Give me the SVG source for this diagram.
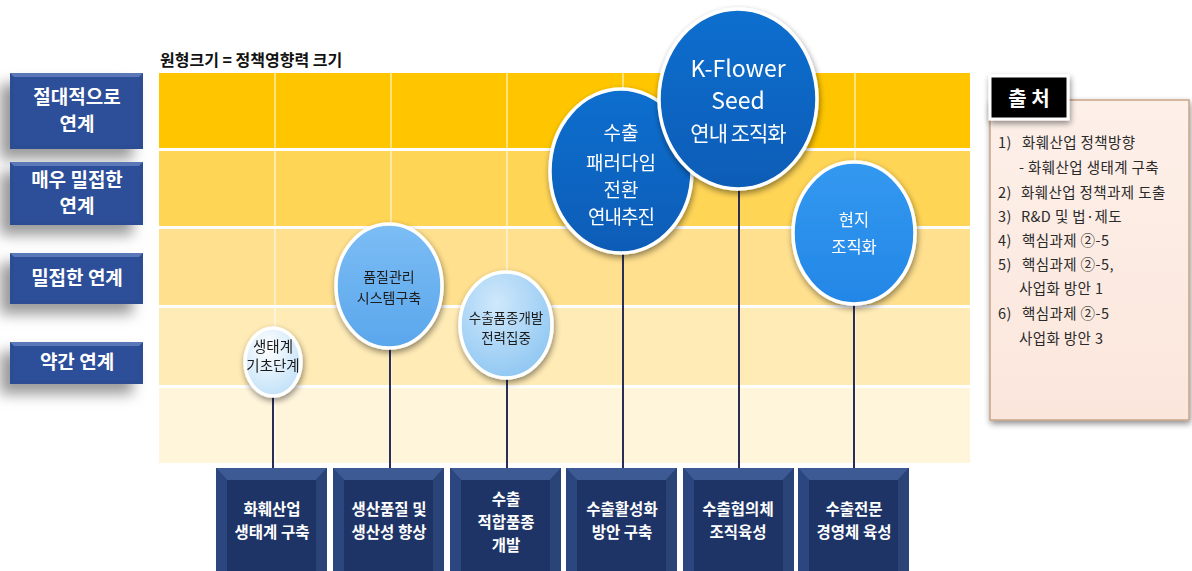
<svg xmlns="http://www.w3.org/2000/svg" width="1192" height="571" viewBox="0 0 1192 571">
<defs>
<style>
.kr{font-family:"Noto Sans CJK KR","Noto Sans",sans-serif;}
.lbl{font-family:"Noto Sans CJK KR",sans-serif;font-weight:bold;font-size:19px;fill:#fff;text-anchor:middle;}
.btm{font-family:"Noto Sans CJK KR",sans-serif;font-weight:bold;font-size:15.5px;fill:#fff;text-anchor:middle;}
.ctw{font-family:"Noto Sans CJK KR","Noto Sans",sans-serif;fill:#fff;text-anchor:middle;}
.ctd{font-family:"Noto Sans CJK KR",sans-serif;fill:#1a1a1a;text-anchor:middle;}
.src{font-family:"Noto Sans CJK KR",sans-serif;font-size:14.5px;letter-spacing:0.4px;fill:#2a2a2a;}
.conn{stroke:#2a2d55;stroke-width:2;fill:none;}
.cw{stroke:#fff;stroke-width:3.5;}
</style>
<filter id="sh" x="-30%" y="-30%" width="160%" height="160%">
<feGaussianBlur in="SourceAlpha" stdDeviation="3"/>
<feOffset dx="1" dy="3" result="b"/>
<feComponentTransfer><feFuncA type="linear" slope="0.45"/></feComponentTransfer>
<feMerge><feMergeNode/><feMergeNode in="SourceGraphic"/></feMerge>
</filter>
<filter id="blur8" x="-30%" y="-50%" width="160%" height="200%"><feGaussianBlur stdDeviation="7"/></filter>
<radialGradient id="gLight1" cx="40%" cy="30%" r="75%"><stop offset="0" stop-color="#ffffff"/><stop offset="1" stop-color="#bfe0f8"/></radialGradient>
<radialGradient id="gLight2" cx="40%" cy="30%" r="75%"><stop offset="0" stop-color="#cfe8fb"/><stop offset="1" stop-color="#8ec6f2"/></radialGradient>
<linearGradient id="gMid" x1="0" y1="0" x2="0" y2="1"><stop offset="0" stop-color="#7cbdf4"/><stop offset="1" stop-color="#5aa6ec"/></linearGradient>
<linearGradient id="gDark" x1="0" y1="0" x2="0" y2="1"><stop offset="0" stop-color="#0d6fcf"/><stop offset="1" stop-color="#0a5cb6"/></linearGradient>
<linearGradient id="gBright" x1="0" y1="0" x2="0" y2="1"><stop offset="0" stop-color="#3399f0"/><stop offset="1" stop-color="#2386e6"/></linearGradient>
<linearGradient id="gSrc" x1="0" y1="0" x2="0" y2="1"><stop offset="0" stop-color="#fdf0e9"/><stop offset="1" stop-color="#fbe6dc"/></linearGradient>
<g id="bbox">
<rect x="0" y="0" width="111" height="103" fill="#1d3363"/>
<polygon points="0,0 111,0 100,12 11,12" fill="#3e5a94"/>
<polygon points="0,0 11,12 11,103 0,103" fill="#2c4780"/>
<polygon points="111,0 100,12 100,103 111,103" fill="#2a4478"/>
<rect x="11" y="12" width="89" height="91" fill="#1e3466"/>
</g>
</defs>
<rect width="1192" height="571" fill="#fff"/>

<!-- grid -->
<g id="grid">
<rect x="159" y="73" width="811" height="75" fill="#ffc600"/>
<rect x="159" y="151" width="811" height="75" fill="#ffd556"/>
<rect x="159" y="229" width="811" height="76" fill="#ffe08e"/>
<rect x="159" y="308" width="811" height="77" fill="#ffebb6"/>
<rect x="159" y="388" width="811" height="75" fill="#fff5db"/>
<g stroke="#fff" stroke-width="1.2" opacity="0.8">
<line x1="275" y1="73" x2="275" y2="463"/>
<line x1="391" y1="73" x2="391" y2="463"/>
<line x1="507" y1="73" x2="507" y2="463"/>
<line x1="623" y1="73" x2="623" y2="463"/>
<line x1="739" y1="73" x2="739" y2="463"/>
<line x1="855" y1="73" x2="855" y2="463"/>
</g>
</g>

<text class="kr" x="160" y="66" font-size="16" font-weight="bold" fill="#111">원형크기 = 정책영향력 크기</text>

<!-- left labels -->
<g id="lbl1">
<rect x="0" y="84" width="133" height="75" fill="#999" filter="url(#blur8)"/>
<rect x="10" y="73" width="133" height="76" fill="#2c4c93"/>
<polygon points="10,73 143,73 139,77 14,77" fill="#5a78b8"/>
<rect x="14" y="77" width="125" height="68" fill="#2d4e98"/>
<text class="lbl" x="77" y="104">절대적으로</text>
<text class="lbl" x="77" y="131">연계</text>
</g>
<g id="lbl2">
<rect x="0" y="172" width="133" height="63" fill="#999" filter="url(#blur8)"/>
<rect x="10" y="162" width="133" height="63" fill="#2c4c93"/>
<polygon points="10,162 143,162 139,166 14,166" fill="#5a78b8"/>
<rect x="14" y="166" width="125" height="55" fill="#2d4e98"/>
<text class="lbl" x="77" y="187">매우 밀접한</text>
<text class="lbl" x="77" y="213">연계</text>
</g>
<g id="lbl3">
<rect x="0" y="263" width="133" height="51" fill="#999" filter="url(#blur8)"/>
<rect x="10" y="253" width="133" height="51" fill="#2c4c93"/>
<polygon points="10,253 143,253 139,257 14,257" fill="#5a78b8"/>
<rect x="14" y="257" width="125" height="43" fill="#2d4e98"/>
<text class="lbl" x="77" y="285">밀접한 연계</text>
</g>
<g id="lbl4">
<rect x="0" y="352" width="133" height="42" fill="#999" filter="url(#blur8)"/>
<rect x="10" y="342" width="133" height="42" fill="#2c4c93"/>
<polygon points="10,342 143,342 139,346 14,346" fill="#5a78b8"/>
<rect x="14" y="346" width="125" height="34" fill="#2d4e98"/>
<text class="lbl" x="77" y="369">약간 연계</text>
</g>

<!-- connectors -->
<g id="connectors">
<line class="conn" x1="273" y1="396" x2="273" y2="469"/>
<line class="conn" x1="390" y1="348" x2="390" y2="469"/>
<line class="conn" x1="507" y1="378" x2="507" y2="469"/>
<line class="conn" x1="623" y1="253" x2="623" y2="469"/>
<line class="conn" x1="739" y1="188" x2="739" y2="469"/>
<line class="conn" x1="854" y1="303" x2="854" y2="469"/>
</g>

<!-- bottom boxes -->
<g id="b1"><use href="#bbox" x="216" y="468"/><text class="btm" x="272" y="515">화훼산업</text><text class="btm" x="272" y="538">생태계 구축</text></g>
<g id="b2"><use href="#bbox" x="333" y="468"/><text class="btm" x="389" y="515">생산품질 및</text><text class="btm" x="389" y="538">생산성 향상</text></g>
<g id="b3"><use href="#bbox" x="450" y="468"/><text class="btm" x="506" y="505">수출</text><text class="btm" x="506" y="528">적합품종</text><text class="btm" x="506" y="551">개발</text></g>
<g id="b4"><use href="#bbox" x="566" y="468"/><text class="btm" x="622" y="515">수출활성화</text><text class="btm" x="622" y="538">방안 구축</text></g>
<g id="b5"><use href="#bbox" x="683" y="468"/><text class="btm" x="738" y="515">수출협의체</text><text class="btm" x="738" y="538">조직육성</text></g>
<g id="b6"><use href="#bbox" x="798" y="468"/><text class="btm" x="854" y="515">수출전문</text><text class="btm" x="854" y="538">경영체 육성</text></g>

<!-- circles -->
<g id="c1" filter="url(#sh)">
<ellipse class="cw" cx="273" cy="362" rx="28" ry="34" fill="url(#gLight1)"/>
<text class="ctd" x="273" y="352" font-size="14.5">생태계</text>
<text class="ctd" x="273" y="371" font-size="14.5">기초단계</text>
</g>
<g id="c2" filter="url(#sh)">
<ellipse class="cw" cx="389" cy="286" rx="53" ry="62" fill="url(#gMid)"/>
<text class="ctd" x="389" y="282" font-size="14">품질관리</text>
<text class="ctd" x="389" y="303" font-size="14">시스템구축</text>
</g>
<g id="c3" filter="url(#sh)">
<ellipse class="cw" cx="506" cy="325" rx="46" ry="53" fill="url(#gLight2)"/>
<text class="ctd" x="506" y="323" font-size="13.5">수출품종개발</text>
<text class="ctd" x="506" y="343" font-size="13.5">전력집중</text>
</g>
<g id="c4" filter="url(#sh)">
<ellipse class="cw" cx="621" cy="171" rx="71" ry="82" fill="url(#gDark)"/>
<text class="ctw" x="621" y="140" font-size="19">수출</text>
<text class="ctw" x="621" y="170" font-size="19">패러다임</text>
<text class="ctw" x="621" y="197" font-size="19">전환</text>
<text class="ctw" x="621" y="224" font-size="19" letter-spacing="-1">연내추진</text>
</g>
<g id="c5" filter="url(#sh)">
<ellipse class="cw" cx="738" cy="99" rx="79" ry="90" fill="url(#gDark)"/>
<text class="ctw" x="738" y="77" font-size="23">K-Flower</text>
<text class="ctw" x="738" y="109" font-size="23">Seed</text>
<text class="ctw" x="738" y="141" font-size="21" letter-spacing="-1">연내 조직화</text>
</g>
<g id="c6" filter="url(#sh)">
<ellipse class="cw" cx="854" cy="233" rx="61" ry="71" fill="url(#gBright)"/>
<text class="ctw" x="854" y="226" font-size="16.5">현지</text>
<text class="ctw" x="854" y="253" font-size="16.5">조직화</text>
</g>

<!-- source box -->
<g id="source">
<rect x="990" y="100" width="199" height="320" fill="url(#gSrc)" stroke="#c9a486" stroke-width="1.5" filter="url(#sh)"/>
<rect x="990" y="76" width="78" height="43" fill="#000" stroke="#fff" stroke-width="3" filter="url(#sh)"/>
<text class="kr" x="1029" y="106" font-size="20" font-weight="bold" fill="#fff" text-anchor="middle">출 처</text>
<text class="src" y="148"><tspan x="998">1)</tspan><tspan x="1022">화훼산업 정책방향</tspan></text>
<text class="src" x="1019" y="173">- 화훼산업 생태계 구축</text>
<text class="src" y="198"><tspan x="998">2)</tspan><tspan x="1021">화훼산업 정책과제 도출</tspan></text>
<text class="src" y="222"><tspan x="998">3)</tspan><tspan x="1021">R&amp;D 및 법·제도</tspan></text>
<text class="src" y="246"><tspan x="998">4)</tspan><tspan x="1022">핵심과제 ②-5</tspan></text>
<text class="src" y="270"><tspan x="998">5)</tspan><tspan x="1022">핵심과제 ②-5,</tspan></text>
<text class="src" x="1019" y="294">사업화 방안 1</text>
<text class="src" y="319"><tspan x="998">6)</tspan><tspan x="1022">핵심과제 ②-5</tspan></text>
<text class="src" x="1019" y="344">사업화 방안 3</text>
</g>
</svg>
